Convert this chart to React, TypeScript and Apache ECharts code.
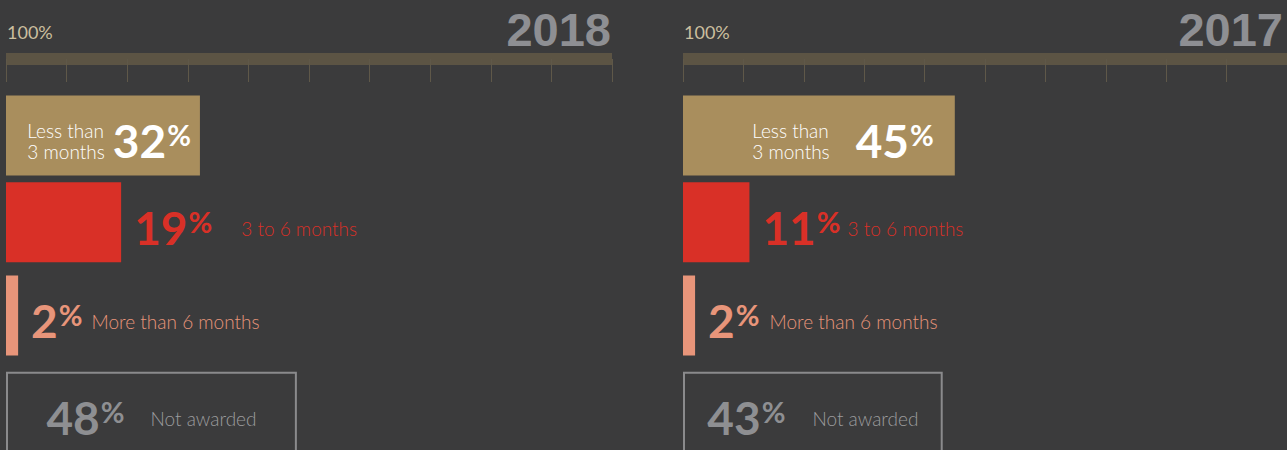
import React, { useEffect, useRef } from "react";
import * as echarts from "echarts";

// ---- data ----
const categories = ["Less than 3 months", "3 to 6 months", "More than 6 months", "Not awarded"];
const descLines = ["Less than\n3 months", "3 to 6 months", "More than 6 months", "Not awarded"];
const years = ["2018", "2017"];
const values2018 = [32, 19, 2, 48];
const values2017 = [45, 11, 2, 43];
const scaleLabel = "100%";

// ---- styles ----
const barFill = ["#a98e5d", "#d93027", "#e8957a", "none"];
const numColor = ["#ffffff", "#d93027", "#e8957a", "#8e8f92"];
const descColor = ["#ffffff", "#d93027", "#e8957a", "#9c9c9e"];
const rowNudge = [3, -1, 1.5, 8];
const panelLeft = [6, 683];
const panelGaps = [
  [8, 29, 9, 26],
  [26, 7, 10, 27],
];
const tanPad = [9, 21];
const SCALE_W = 606;
const BAR_H = 80;
const NUM_FONT = "bold 46px Lato";
const PCT_FONT = "bold 29px Lato";
const DESC_FONT = "300 19px Lato";

let ctx: CanvasRenderingContext2D | null = null;
function measure(text: string, font: string): number {
  if (!ctx) ctx = document.createElement("canvas").getContext("2d");
  if (!ctx) return text.length * 10;
  ctx.font = font;
  return Math.max(...text.split("\n").map((t) => ctx!.measureText(t).width));
}

function makeRender(panel: number) {
  return (params: any, api: any) => {
    const v = api.value(0);
    const ci = api.value(1);
    const s = api.coord([0, ci]);
    const e = api.coord([v, ci]);
    const x0 = s[0];
    const x1 = e[0];
    const cy = s[1] + rowNudge[ci];
    const children: any[] = [];
    if (ci === 3) {
      children.push({
        type: "rect",
        shape: { x: x0 + 1, y: cy - BAR_H / 2, width: x1 - x0 - 2, height: BAR_H },
        style: { fill: "none", stroke: "#8a8a8c", lineWidth: 2 },
      });
    } else {
      children.push({
        type: "rect",
        shape: { x: x0, y: cy - BAR_H / 2, width: x1 - x0, height: BAR_H },
        style: { fill: barFill[ci] },
      });
    }
    const numText = String(v);
    const numW = measure(numText, NUM_FONT);
    const pW = measure("%", PCT_FONT);
    const desc = descLines[ci];
    const dW = measure(desc, DESC_FONT);
    const gap = panelGaps[panel][ci];
    let numLeft: number;
    let descLeft: number;
    if (ci === 0) {
      const pRight = x1 - tanPad[panel];
      numLeft = pRight - pW - 1 - numW;
      descLeft = numLeft - gap - dW;
    } else if (ci === 3) {
      const total = numW + 1 + pW + gap + dW;
      numLeft = (x0 + x1) / 2 - total / 2;
      descLeft = numLeft + numW + 1 + pW + gap;
    } else {
      numLeft = x1 + 13;
      descLeft = numLeft + numW + 1 + pW + gap;
    }
    const ny = cy + 5;
    children.push({
      type: "text",
      x: numLeft,
      y: ny,
      style: { text: numText, font: NUM_FONT, fill: numColor[ci], align: "left", verticalAlign: "middle" },
    });
    children.push({
      type: "text",
      x: numLeft + numW + 1,
      y: ny - 6,
      style: { text: "%", font: PCT_FONT, fill: numColor[ci], align: "left", verticalAlign: "middle" },
    });
    children.push({
      type: "text",
      x: descLeft,
      y: ny + 1,
      style: {
        text: desc,
        font: DESC_FONT,
        fill: descColor[ci],
        align: "left",
        verticalAlign: "middle",
        lineHeight: 21,
      },
    });
    return { type: "group", children };
  };
}

export default function App() {
  const ref = useRef<HTMLDivElement>(null);
  useEffect(() => {
    if (!ref.current) return;
    const chart = echarts.init(ref.current, undefined, { renderer: "svg" });
    const allValues = [values2018, values2017];
    const option: any = {
      animation: false,
      backgroundColor: "#3b3b3c",
      title: [
        ...years.map((y, i) => ({
          text: scaleLabel,
          left: panelLeft[i] + 1,
          top: 23,
          padding: 0,
          textStyle: { color: "#cbbf9f", fontSize: 18, fontWeight: "normal", fontFamily: "Lato" },
        })),
        {
          text: years[0],
          right: 1287 - 611,
          top: 6,
          padding: 0,
          textStyle: { color: "#8e8f93", fontSize: 47, fontWeight: "bold", fontFamily: "Liberation Sans" },
        },
        {
          text: years[1],
          right: 4,
          top: 6,
          padding: 0,
          textStyle: { color: "#8e8f93", fontSize: 47, fontWeight: "bold", fontFamily: "Liberation Sans" },
        },
      ],
      grid: panelLeft.map((l) => ({ left: l, top: 87, width: SCALE_W, height: 369 })),
      xAxis: panelLeft.map((_, i) => ({
        type: "value",
        gridIndex: i,
        min: 0,
        max: 100,
        interval: 10,
        position: "top",
        offset: 28,
        axisLine: { show: true, lineStyle: { color: "#5c5444", width: 12, cap: "butt" } },
        axisTick: { show: true, inside: true, length: 23, lineStyle: { color: "#5f5849", width: 1 } },
        axisLabel: { show: false },
        splitLine: { show: false },
      })),
      yAxis: panelLeft.map((_, i) => ({
        type: "category",
        gridIndex: i,
        data: categories,
        inverse: true,
        show: false,
      })),
      series: allValues.map((vals, i) => ({
        type: "custom",
        name: years[i],
        xAxisIndex: i,
        yAxisIndex: i,
        data: vals.map((v, k) => [v, k]),
        encode: { x: 0, y: 1 },
        renderItem: makeRender(i),
      })),
    };
    chart.setOption(option);
    return () => chart.dispose();
  }, []);
  return <div ref={ref} style={{ position: "fixed", left: 0, top: 0, width: 1287, height: 450 }} />;
}
